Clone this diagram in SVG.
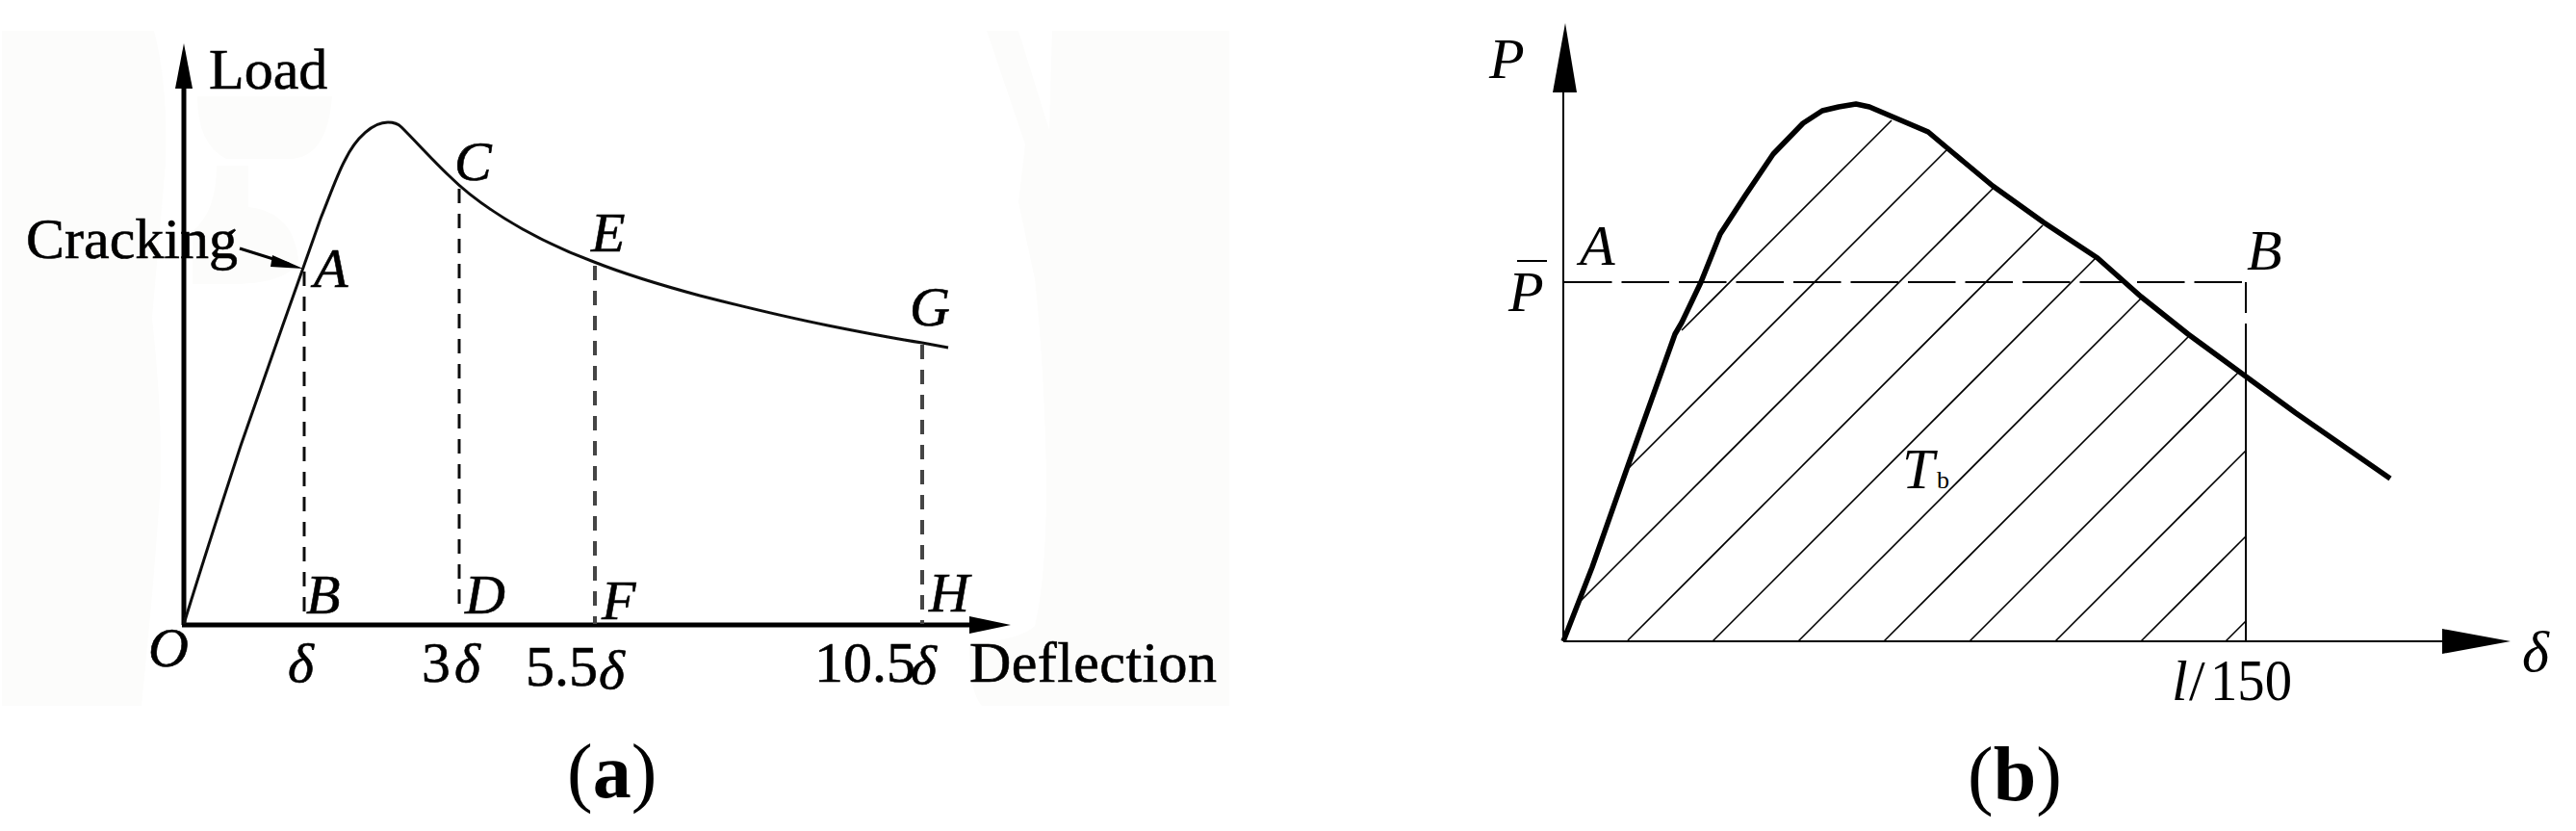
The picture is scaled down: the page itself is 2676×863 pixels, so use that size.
<svg xmlns="http://www.w3.org/2000/svg" width="2676" height="863" viewBox="0 0 2676 863">
<style>
text{font-family:"Liberation Serif","Times New Roman",serif;fill:#000}
.t{font-size:60px}
.i{font-size:58px;font-style:italic}
.i60{font-size:60px;font-style:italic}
.cap{font-size:80px}
.heavy text{stroke:#000;stroke-width:0.6}
.a-ax{stroke:#000;stroke-width:5;fill:none}
.a-curve{stroke:#111;stroke-width:3;fill:none}
.a-dash{stroke:#111;stroke-width:3;fill:none;stroke-dasharray:15 11}
.a-dash2{stroke:#444;stroke-width:4;fill:none;stroke-dasharray:15 11}
.b-thin{stroke:#000;stroke-width:2;fill:none}
.b-hatch{stroke:#000;stroke-width:1.6;fill:none}
.b-thick{stroke:#000;stroke-width:5.5;fill:none;stroke-linejoin:round}
.bg{fill:#fcfcfb}
</style>
<defs><filter id="soft" x="-2%" y="-2%" width="104%" height="104%"><feGaussianBlur stdDeviation="0.7"/></filter></defs>
<rect width="2676" height="863" fill="#fff"/>
<g id="panel-a-background">
<path class="bg" d="M2,32H160Q175,90 172,170L158,330Q168,420 167,500Q160,600 155,650L147,733H2Z"/>
<path class="bg" d="M205,100H345Q340,165 300,165H235Q205,150 205,100Z"/>
<path class="bg" d="M225,172H258V215Q305,220 310,270Q300,295 240,295H200V240Q225,220 225,172Z"/>
<path class="bg" d="M1025,32H1058L1090,135L1093,32H1277V733H1020Q1007,720 1007,668Q1060,665 1075,650Q1087,600 1087,500Q1085,380 1075,290L1058,210L1065,150Z"/>
</g>
<g id="panel-a" filter="url(#soft)">
<g id="a-connectors">
<path class="a-ax" d="M191,649V90"/>
<polygon points="191,45 200,92 182,92"/>
<path class="a-ax" d="M189,649H1010"/>
<polygon points="1050,649 1007,640 1007,658"/>
<path class="a-curve" d="M191,648Q215,570 250,463L293,340L315,278L333,227C342,205 350,182 358,167C370,142 388,127 403,127C411,127 414,129 417,132C433,148 450,167 467,183C490,206 520,225 543,238C568,252 590,262 617,272C650,285 690,297 727,307C770,318 815,329 860,338C895,345 925,351 958,356L985,361"/>
<path class="a-dash" d="M316,282V638"/>
<path class="a-dash" d="M477,196V638"/>
<path class="a-dash2" d="M618,276V648"/>
<path class="a-dash2" d="M958,358V648"/>
<path d="M249,258L300,274" stroke="#000" stroke-width="3"/>
<polygon points="315,279 283,265 281,277"/>
</g>
<g id="a-labels" class="heavy">
<text class="t" x="217" y="92">Load</text>
<text class="t" x="27" y="268">Cracking</text>
<text class="t" x="1007" y="708" textLength="257">Deflection</text>
<text class="i" x="472" y="187">C</text>
<text class="i" x="326" y="298">A</text>
<text class="i" x="614" y="261">E</text>
<text class="i" x="945" y="338">G</text>
<text class="i" x="318" y="637">B</text>
<text class="i" x="483" y="637">D</text>
<text class="i" x="625" y="643">F</text>
<text class="i" x="965" y="635">H</text>
<text class="i" x="154" y="692">O</text>
<text class="i" x="299" y="708">δ</text>
<text class="t" x="438" y="708">3</text>
<text class="i" x="472" y="708">δ</text>
<text class="t" x="546" y="712">5.5</text>
<text class="i" x="622" y="715">δ</text>
<text class="t" x="846" y="708">10.5</text>
<text class="i" x="946" y="710">δ</text>
</g>
</g>
<text id="caption-a" class="cap" x="589" y="828">(<tspan font-weight="bold">a</tspan>)</text>
<g id="panel-b">
<g id="b-connectors">
<path class="b-thin" d="M1624,666V90"/>
<polygon points="1626,24 1638,96 1613,96"/>
<path class="b-thin" d="M1624,666H2540"/>
<polygon points="2608,666 2537,653 2537,679"/>
<path class="b-thin" d="M1625,293H2333" stroke-dasharray="49.5 10"/>
<path class="b-thin" d="M2333,293V325M2333,336V666"/>
<g class="b-hatch">
<path d="M1747,343L1965,125"/>
<path d="M1691,487L2022,156"/>
<path d="M1642,624L2071,195"/>
<path d="M1691,665L2122,234"/>
<path d="M1779,666L2179,266"/>
<path d="M1868,666L2224,310"/>
<path d="M1957,666L2273,350"/>
<path d="M2046,666L2327,385"/>
<path d="M2135,666L2333,468"/>
<path d="M2224,666L2333,557"/>
<path d="M2312,666L2333,645"/>
</g>
<polyline class="b-thick" points="1624,666 1654,589 1691,484 1740,347 1747,335 1767,293 1787,243 1813,203 1842,160 1873,128 1893,115 1910,111 1928,108 1942,111 2003,137 2022,153 2040,168 2070,193 2123,231 2179,268 2224,308 2273,347 2329,388 2385,429 2483,497"/>
</g>
<g id="b-labels">
<text class="i60" x="1547" y="81">P</text>
<text class="i60" x="1567" y="323">P</text>
<rect x="1576" y="270" width="31" height="2"/>
<text class="i60" x="1641" y="275">A</text>
<text class="i60" x="2334" y="280">B</text>
<text class="i60" x="1976" y="507">T</text>
<text x="2012" y="507" style="font-size:26px">b</text>
<text class="i60" x="2620" y="697">δ</text>
<text class="i60" x="2256" y="727">l</text>
<text class="t" x="2274" y="727">/</text>
<text x="2296" y="727" style="font-size:62px" textLength="85" lengthAdjust="spacingAndGlyphs">150</text>
</g>
</g>
<text id="caption-b" class="cap" x="2044" y="831">(<tspan font-weight="bold">b</tspan>)</text>
</svg>
